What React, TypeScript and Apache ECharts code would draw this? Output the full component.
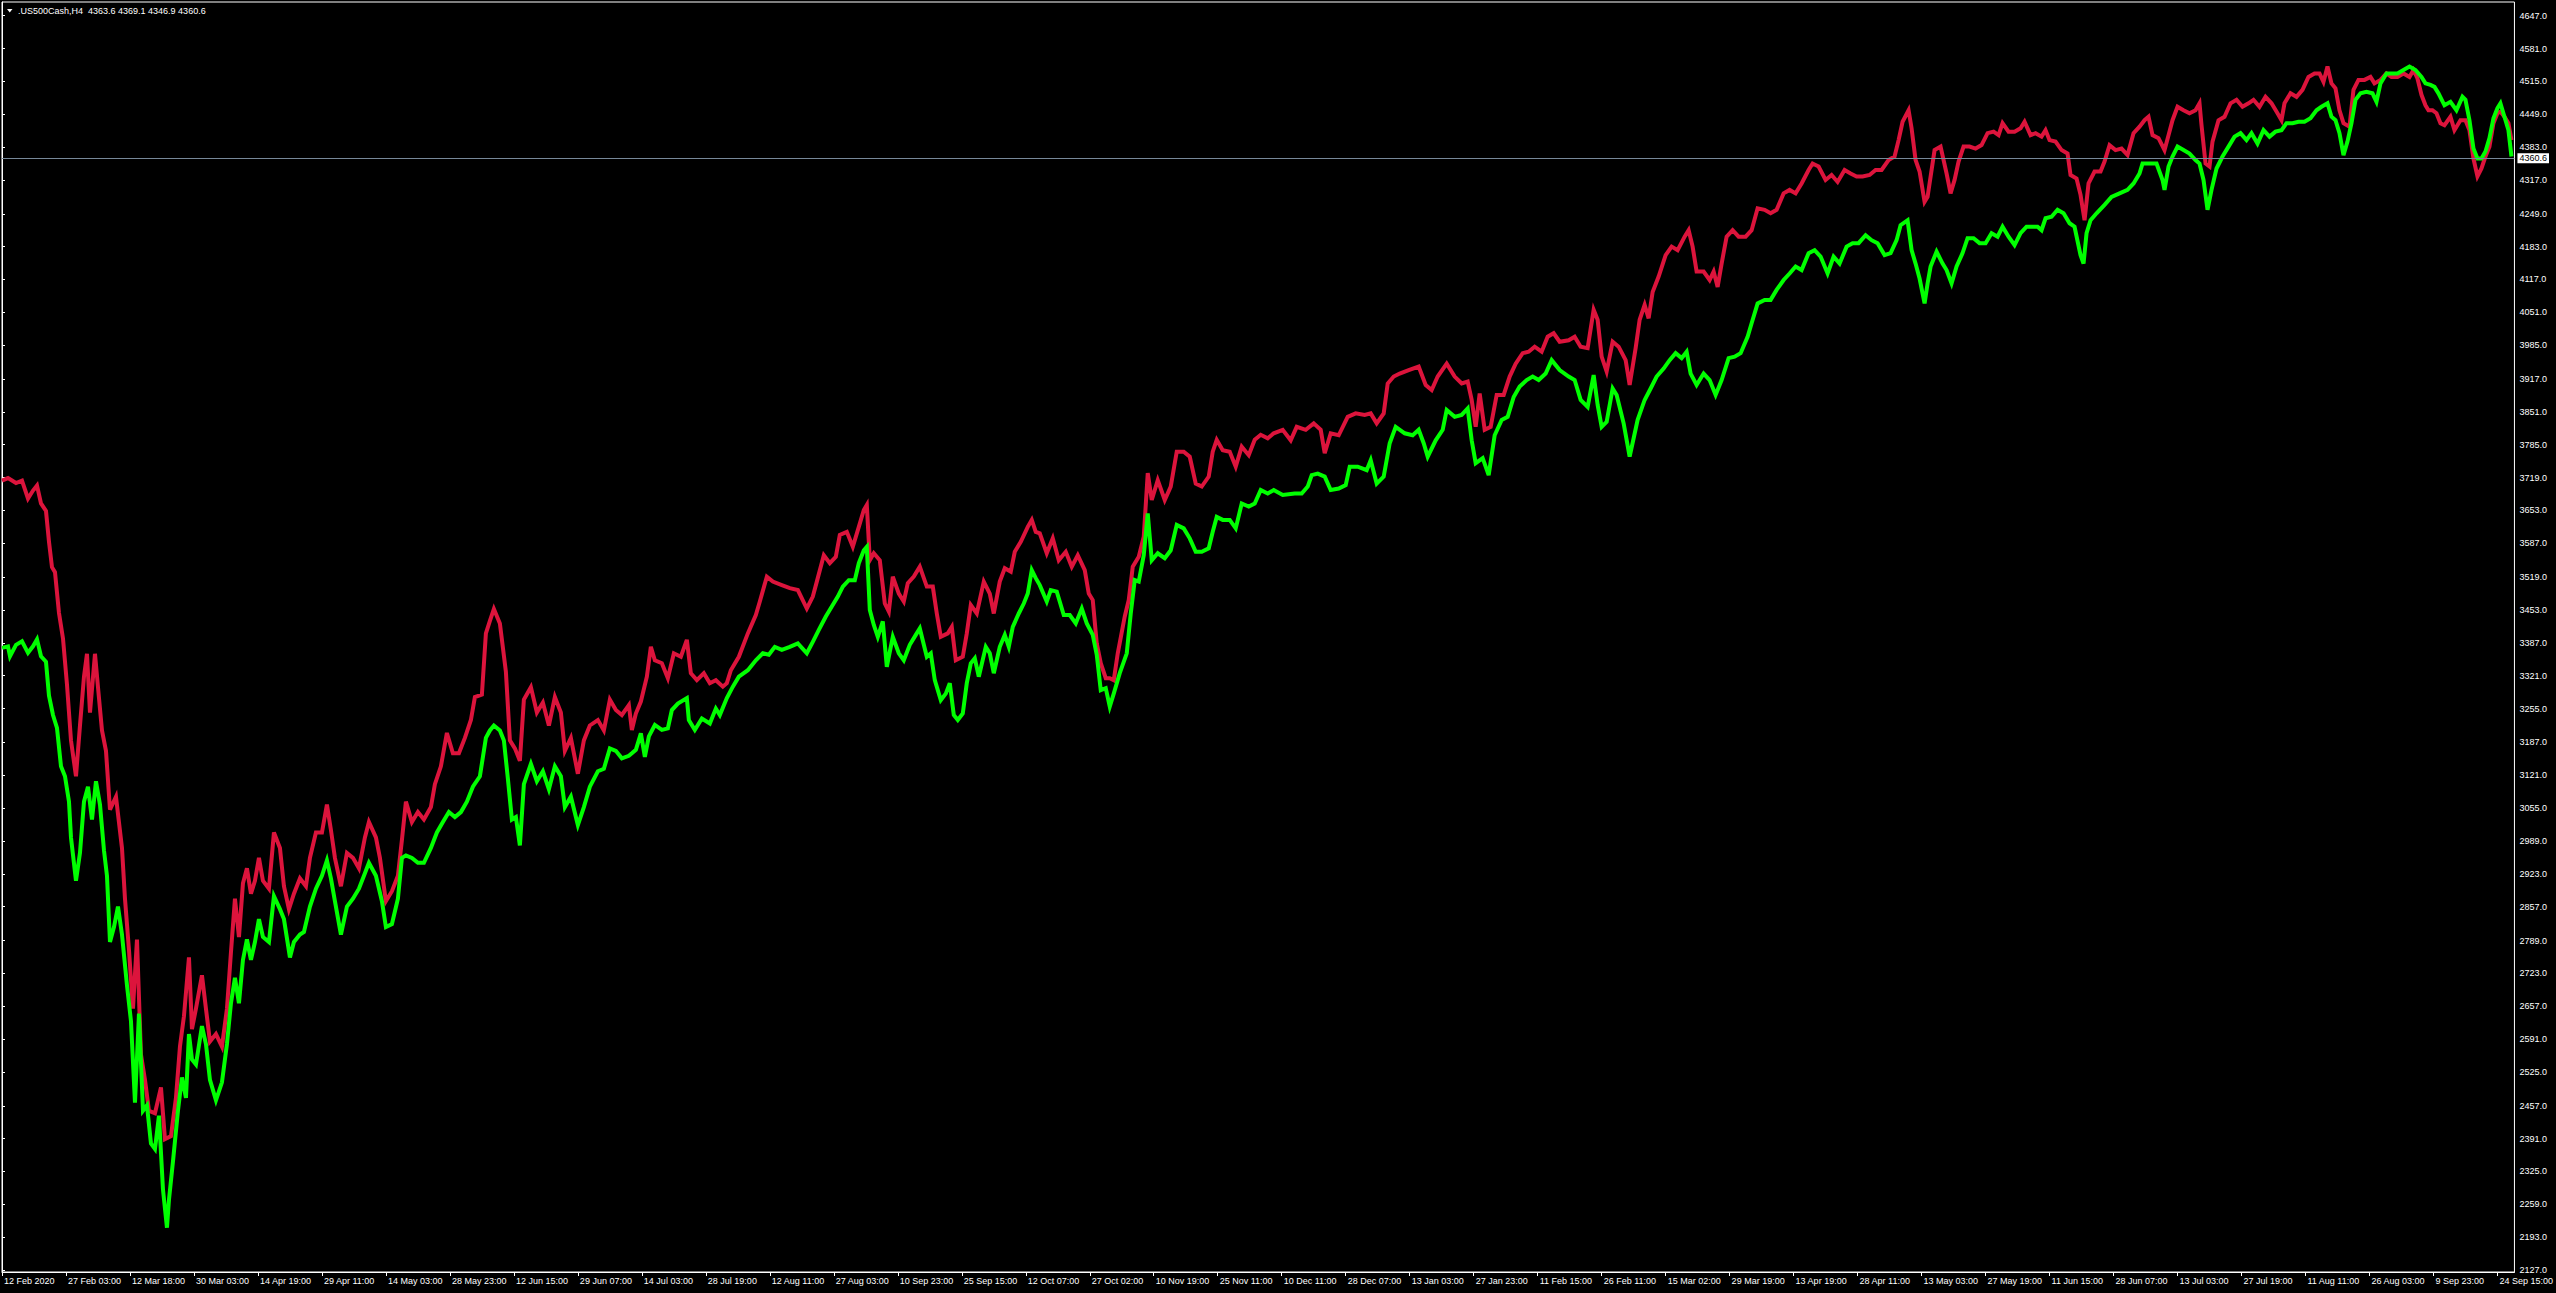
import React, { useEffect, useRef } from 'react';
import * as echarts from 'echarts';

const symbolTitle = '.US500Cash,H4  4363.6 4369.1 4346.9 4360.6';
const currentPrice = 4360.6;
const BARS_PER_LABEL = 64;
const LAST_BAR = 2513;

const xTickLabels = [
  '12 Feb 2020', '27 Feb 03:00', '12 Mar 18:00', '30 Mar 03:00', '14 Apr 19:00', '29 Apr 11:00',
  '14 May 03:00', '28 May 23:00', '12 Jun 15:00', '29 Jun 07:00', '14 Jul 03:00', '28 Jul 19:00',
  '12 Aug 11:00', '27 Aug 03:00', '10 Sep 23:00', '25 Sep 15:00', '12 Oct 07:00', '27 Oct 02:00',
  '10 Nov 19:00', '25 Nov 11:00', '10 Dec 11:00', '28 Dec 07:00', '13 Jan 03:00', '27 Jan 23:00',
  '11 Feb 15:00', '26 Feb 11:00', '15 Mar 02:00', '29 Mar 19:00', '13 Apr 19:00', '28 Apr 11:00',
  '13 May 03:00', '27 May 19:00', '11 Jun 15:00', '28 Jun 07:00', '13 Jul 03:00', '27 Jul 19:00',
  '11 Aug 11:00', '26 Aug 03:00', '9 Sep 23:00', '24 Sep 15:00',
];

const yTickValues = [
  2127, 2193, 2259, 2325, 2391, 2457, 2525, 2591, 2657, 2723, 2789, 2857, 2923, 2989, 3055, 3121,
  3187, 3255, 3321, 3387, 3453, 3519, 3587, 3653, 3719, 3785, 3851, 3917, 3985, 4051, 4117, 4183,
  4249, 4317, 4383, 4449, 4515, 4581, 4647,
];

// [bar index from 12 Feb 2020, price]
const redPoints: [number, number][] = [
  [0,3713],[6,3718],[14,3708],[20,3713],[26,3677],[31,3693],[35,3703],[39,3667],[44,3652],[47,3590],
  [50,3539],[53,3529],[57,3447],[61,3396],[65,3303],[69,3191],[74,3119],[78,3221],[82,3319],[85,3365],
  [88,3247],[93,3365],[96,3298],[100,3211],[104,3170],[108,3052],[114,3078],[120,2975],[123,2873],[127,2770],
  [131,2652],[135,2791],[139,2560],[143,2509],[147,2447],[153,2442],[159,2494],[163,2390],[169,2396],[174,2473],
  [178,2576],[182,2637],[187,2755],[190,2611],[194,2652],[200,2719],[204,2652],[208,2586],[214,2601],[220,2576],
  [225,2652],[229,2765],[233,2873],[237,2796],[241,2904],[245,2934],[249,2883],[253,2909],[257,2955],[261,2909],
  [267,2893],[272,3006],[278,2975],[282,2898],[287,2852],[292,2883],[298,2914],[304,2898],[308,2955],[314,3006],
  [320,3006],[325,3062],[329,3011],[333,2955],[339,2898],[345,2965],[351,2955],[357,2934],[363,2996],[367,3027],
  [374,2996],[378,2955],[384,2868],[390,2888],[396,2919],[400,2991],[404,3068],[410,3027],[416,3047],[422,3032],
  [429,3057],[433,3103],[439,3139],[445,3206],[451,3165],[457,3165],[463,3196],[469,3232],[473,3278],[480,3283],
  [484,3406],[488,3431],[492,3455],[498,3426],[504,3329],[508,3191],[513,3175],[518,3150],[522,3273],[529,3298],
  [535,3247],[541,3267],[547,3221],[553,3278],[559,3247],[563,3170],[569,3196],[576,3124],[582,3191],[588,3221],
  [596,3232],[602,3211],[608,3273],[614,3252],[620,3242],[627,3262],
  [630,3212],[634,3245],[639,3269],[645,3319],[649,3379],[653,3352],[660,3346],[666,3316],[672,3366],[679,3359],
  [685,3393],[689,3326],[695,3312],[702,3326],[708,3306],[714,3312],[721,3299],[725,3306],[729,3332],[737,3359],
  [746,3406],[754,3443],[758,3470],[765,3520],[771,3510],[780,3503],[788,3497],[796,3493],[805,3456],[811,3480],
  [815,3510],[822,3563],[828,3547],[834,3560],[838,3604],[845,3610],[851,3580],[857,3620],[862,3654],[865,3664],
  [868,3553],[872,3567],[878,3553],[883,3466],[887,3450],[891,3520],[897,3486],[902,3470],[906,3507],[912,3520],
  [918,3540],[925,3500],[931,3500],[935,3446],[939,3399],[946,3406],[950,3419],[954,3352],[961,3359],[965,3406],
  [969,3463],[975,3446],[982,3510],[988,3486],[992,3446],[998,3510],[1003,3537],[1009,3530],[1013,3570],[1019,3590],
  [1026,3620],[1030,3634],[1034,3610],[1038,3607],[1045,3567],[1051,3597],[1057,3553],[1064,3570],[1070,3540],[1076,3563],
  [1083,3533],[1087,3486],[1091,3473],[1095,3386],[1099,3346],[1104,3316],[1108,3316],[1112,3312],[1116,3366],[1123,3440],
  [1127,3473],[1131,3540],[1137,3560],[1142,3600],[1146,3728],[1150,3674],[1156,3714],[1163,3674],[1169,3701],[1175,3771],
  [1182,3771],[1188,3761],[1194,3707],[1200,3701],[1207,3721],[1211,3771],[1215,3795],[1221,3774],[1228,3771],[1234,3741],
  [1240,3781],[1247,3764],[1253,3795],[1259,3805],[1266,3798],
  [1272,3808],[1281,3815],[1289,3794],[1295,3821],[1304,3815],[1312,3828],[1319,3815],[1323,3768],[1329,3808],[1337,3804],
  [1346,3841],[1354,3848],[1363,3845],[1369,3848],[1375,3828],[1382,3848],[1386,3908],[1392,3922],[1398,3928],[1407,3935],
  [1417,3942],[1424,3905],[1430,3895],[1436,3922],[1445,3948],[1453,3922],[1460,3908],[1466,3912],[1470,3875],[1474,3821],
  [1478,3888],[1483,3815],[1489,3821],[1495,3885],[1502,3885],[1508,3922],[1514,3948],[1521,3969],[1527,3972],[1533,3982],
  [1540,3972],[1546,4002],[1552,4009],[1558,3992],[1567,3995],[1573,4002],[1579,3982],[1586,3979],[1592,4056],[1596,4036],
  [1600,3962],[1605,3932],[1611,3992],[1617,3982],[1624,3955],[1628,3905],[1634,3979],[1638,4036],[1643,4066],[1647,4039],
  [1651,4092],[1657,4123],[1664,4166],[1670,4183],[1676,4176],[1683,4203],[1687,4216],[1691,4183],[1695,4133],[1702,4133],
  [1708,4116],[1712,4133],[1716,4102],[1720,4149],[1725,4203],[1731,4216],[1737,4203],[1744,4203],[1750,4216],[1756,4260],
  [1763,4257],[1769,4250],[1775,4257],[1782,4290],[1788,4297],[1794,4290],[1800,4310],[1807,4337],[1811,4350],[1817,4344],
  [1824,4317],[1830,4327],[1836,4313],[1843,4337],[1849,4330],[1855,4324],[1861,4324],[1868,4327],[1874,4337],[1880,4337],
  [1887,4357],[1893,4364],[1897,4397],[1901,4434],[1907,4457],[1910,4421],[1914,4357],[1918,4334],[1923,4273],
  [1926,4283],[1933,4377],[1939,4384],[1945,4330],[1949,4290],[1953,4317],[1957,4354],[1962,4384],[1968,4384],[1974,4380],
  [1980,4387],[1986,4411],[1992,4414],[1997,4407],[2001,4431],[2007,4414],[2013,4414],[2019,4421],[2023,4434],[2029,4407],
  [2034,4411],[2040,4404],[2044,4417],[2048,4397],[2054,4394],[2060,4377],[2066,4370],[2069,4327],[2075,4320],[2079,4287],
  [2083,4236],[2087,4310],[2093,4334],[2099,4334],[2103,4354],[2108,4387],[2114,4377],[2120,4380],[2126,4367],[2132,4411],
  [2138,4424],[2143,4437],[2147,4444],[2151,4407],[2157,4401],[2163,4377],[2167,4407],[2171,4437],[2176,4464],[2182,4457],
  [2188,4451],[2194,4457],[2198,4471],[2200,4427],[2204,4350],[2208,4344],[2211,4394],[2217,4437],[2223,4444],[2229,4471],
  [2235,4478],[2241,4464],[2247,4471],[2252,4478],[2258,4464],[2264,4484],[2270,4471],[2276,4451],[2280,4437],[2283,4471],
  [2289,4491],[2295,4484],[2301,4498],[2307,4524],[2313,4531],[2318,4531],[2322,4514],[2326,4545],[2330,4511],[2334,4501],
  [2338,4457],[2342,4431],[2348,4424],[2352,4498],[2357,4518],[2363,4518],[2369,4524],[2373,4511],[2379,4518],[2385,4531],
  [2390,4524],[2396,4524],[2402,4531],[2408,4524],[2412,4538],[2416,4521],[2420,4488],[2424,4467],[2427,4457],[2431,4457],
  [2435,4451],[2439,4431],[2443,4427],[2449,4444],[2453,4417],[2459,4437],[2464,4437],[2468,4417],[2472,4360],[2476,4324],
  [2480,4340],[2484,4364],[2488,4384],[2492,4431],[2496,4451],[2499,4454],[2503,4444],[2507,4431],[2510,4397],
];

const greenPoints: [number, number][] = [
  [0,3377],[6,3380],[8,3360],[14,3383],[20,3390],[26,3367],[31,3380],[35,3394],[39,3360],[44,3349],
  [47,3281],[51,3242],[55,3216],[59,3139],[63,3119],[67,3068],[69,2996],[74,2909],[78,2965],[82,3068],
  [86,3098],[90,3032],[94,3109],[98,3062],[102,2970],[105,2919],[108,2786],[112,2816],[116,2857],[120,2801],
  [125,2699],[129,2627],[133,2463],[137,2642],[141,2447],[145,2458],[149,2381],[153,2370],[157,2437],[161,2289],
  [165,2212],[167,2268],[171,2345],[176,2447],[180,2514],[184,2473],[187,2601],[190,2550],[194,2540],[200,2617],
  [204,2581],[208,2509],[214,2468],[220,2504],[225,2581],[229,2663],[233,2714],[237,2663],[241,2750],[245,2791],
  [249,2750],[253,2786],[257,2832],[261,2796],[267,2786],[272,2878],[278,2852],[282,2832],[288,2755],[292,2786],
  [298,2801],[302,2806],[308,2857],[314,2893],[320,2919],[325,2950],[329,2914],[333,2868],[339,2801],[345,2857],
  [351,2873],[357,2893],[363,2924],[367,2945],[374,2919],[380,2868],[384,2816],[390,2822],[396,2873],[400,2955],
  [404,2960],[410,2955],[416,2945],[422,2945],[429,2975],[435,3006],[441,3027],[447,3047],[453,3037],[459,3047],
  [465,3068],[471,3098],[478,3119],[484,3196],[488,3211],[492,3221],[498,3211],[502,3191],[506,3114],[510,3032],
  [514,3037],[518,2980],[522,3103],[529,3144],[535,3109],[541,3129],[547,3093],[553,3139],[559,3119],[563,3057],
  [569,3078],[576,3021],[582,3057],[588,3098],[596,3129],[602,3134],[608,3175],[614,3170],[620,3155],[627,3160],
  [630,3165],[634,3172],[639,3205],[643,3158],[647,3199],[653,3222],[660,3212],[666,3215],[670,3252],[676,3265],
  [685,3276],[687,3232],[693,3212],[700,3235],[708,3225],[714,3255],[718,3242],[725,3276],[731,3299],[737,3319],
  [746,3332],[754,3352],[761,3366],[767,3363],[773,3379],[780,3373],[788,3379],[796,3386],[805,3366],[811,3389],
  [817,3413],[824,3440],[830,3460],[836,3480],[841,3500],[847,3513],[853,3513],[857,3547],[862,3573],[865,3580],
  [868,3453],[872,3423],[876,3399],[881,3430],[885,3339],[891,3399],[897,3366],[902,3352],[908,3383],[914,3403],
  [918,3416],[925,3359],[929,3366],[933,3312],[939,3272],[944,3285],[948,3306],[952,3242],[956,3232],[961,3245],
  [965,3306],[969,3346],[973,3356],[977,3319],[984,3379],[988,3366],[992,3326],[998,3379],[1003,3403],[1007,3379],
  [1011,3419],[1017,3446],[1022,3466],[1026,3486],[1030,3533],[1034,3517],[1038,3503],[1045,3470],[1049,3493],[1055,3490],
  [1062,3443],[1068,3443],[1074,3426],[1080,3456],[1085,3426],[1091,3403],[1095,3363],[1099,3292],[1104,3296],[1108,3259],
  [1112,3285],[1118,3326],[1125,3366],[1129,3446],[1133,3513],[1137,3510],[1142,3563],[1146,3647],[1150,3553],[1156,3567],
  [1163,3557],[1169,3573],[1175,3624],[1182,3617],[1188,3597],[1194,3570],[1200,3570],[1207,3577],[1211,3610],[1215,3640],
  [1221,3634],[1228,3634],[1234,3617],[1240,3667],[1247,3661],[1253,3667],[1259,3694],[1266,3687],
  [1272,3694],[1281,3684],[1293,3687],[1300,3687],[1306,3701],[1310,3724],[1316,3727],[1323,3721],[1329,3694],[1337,3697],
  [1344,3704],[1348,3741],[1356,3741],[1365,3734],[1369,3754],[1375,3707],[1382,3721],[1388,3788],[1394,3821],[1403,3808],
  [1411,3804],[1417,3815],[1422,3788],[1426,3761],[1434,3794],[1441,3815],[1445,3855],[1453,3841],[1460,3845],[1466,3858],
  [1470,3794],[1474,3748],[1481,3758],[1487,3724],[1493,3804],[1500,3835],[1506,3841],[1512,3881],[1518,3902],[1525,3915],
  [1531,3922],[1537,3915],[1544,3928],[1550,3955],[1558,3935],[1567,3922],[1573,3915],[1579,3875],[1586,3861],[1592,3925],
  [1596,3865],[1600,3821],[1605,3831],[1611,3898],[1615,3885],[1622,3828],[1628,3761],[1632,3798],[1636,3835],[1643,3875],
  [1649,3898],[1655,3922],[1662,3938],[1668,3955],[1674,3969],[1680,3959],[1685,3972],[1689,3928],[1695,3905],[1702,3928],
  [1708,3915],[1714,3885],[1720,3915],[1727,3959],[1733,3962],[1739,3969],[1746,4002],[1750,4029],[1756,4069],[1763,4076],
  [1769,4076],[1775,4096],[1782,4116],[1788,4129],[1794,4143],[1800,4136],[1807,4170],[1813,4176],[1819,4163],[1826,4129],
  [1832,4163],[1838,4149],[1845,4183],[1851,4190],[1857,4190],[1864,4206],[1870,4196],[1876,4190],[1883,4166],[1889,4170],
  [1895,4196],[1899,4226],[1906,4236],[1910,4176],[1914,4149],[1918,4119],[1923,4069],
  [1926,4109],[1929,4143],[1935,4173],[1941,4149],[1945,4136],[1950,4109],[1955,4143],[1961,4170],[1966,4200],[1972,4200],
  [1978,4190],[1984,4190],[1990,4210],[1996,4203],[2001,4223],[2007,4203],[2013,4186],[2019,4210],[2025,4223],[2031,4223],
  [2036,4223],[2040,4216],[2044,4240],[2050,4243],[2056,4257],[2062,4250],[2068,4230],[2073,4223],[2079,4166],[2082,4149],
  [2085,4210],[2089,4236],[2095,4250],[2103,4267],[2110,4283],[2118,4290],[2126,4297],[2132,4310],[2138,4330],[2141,4350],
  [2149,4350],[2155,4350],[2161,4317],[2163,4297],[2167,4344],[2171,4364],[2176,4384],[2182,4377],[2188,4370],[2194,4357],
  [2198,4350],[2202,4317],[2206,4257],[2210,4297],[2215,4340],[2221,4364],[2227,4384],[2233,4404],[2239,4411],[2245,4397],
  [2250,4411],[2256,4390],[2262,4417],[2268,4404],[2274,4414],[2280,4417],[2285,4431],[2291,4431],[2297,4434],[2303,4434],
  [2309,4441],[2315,4457],[2320,4464],[2326,4471],[2330,4444],[2334,4437],[2338,4411],[2342,4367],[2346,4394],[2350,4431],
  [2354,4478],[2359,4491],[2365,4494],[2371,4491],[2375,4474],[2379,4511],[2385,4531],[2390,4531],[2396,4531],[2402,4538],
  [2408,4545],[2414,4538],[2420,4524],[2424,4511],[2429,4508],[2433,4504],[2437,4491],[2443,4467],[2449,4474],[2455,4457],
  [2461,4484],[2464,4478],[2468,4437],[2472,4380],[2476,4360],[2480,4360],[2484,4374],[2488,4401],[2492,4441],[2496,4461],
  [2499,4471],[2503,4444],[2507,4417],[2510,4364],
];

const FONT = 'Liberation Sans';

export default function App() {
  const ref = useRef<HTMLDivElement>(null);

  useEffect(() => {
    document.body.style.margin = '0';
    document.body.style.background = '#000';
    const chart = echarts.init(ref.current as HTMLDivElement, null, { renderer: 'svg' });
    const xTickValues = xTickLabels.map((_, k) => k * BARS_PER_LABEL);

    chart.setOption({
      animation: false,
      backgroundColor: '#000',
      textStyle: { fontFamily: FONT },
      grid: {
        left: 2,
        top: 2,
        right: 41,
        bottom: 21,
        show: true,
        borderColor: '#ffffff',
        borderWidth: 1,
        backgroundColor: 'transparent',
      },
      xAxis: {
        type: 'value',
        min: 0,
        max: LAST_BAR,
        interval: BARS_PER_LABEL,
        axisLine: { show: true, lineStyle: { color: '#ffffff', width: 1 } },
        axisTick: { show: true, length: 4, lineStyle: { color: '#ffffff' }, customValues: xTickValues },
        axisLabel: {
          color: '#ffffff',
          fontSize: 9,
          fontFamily: FONT,
          align: 'left',
          margin: 4,
          padding: [0, 0, 0, 2],
          customValues: xTickValues,
          formatter: (v: number) => {
            const k = Math.round(v / BARS_PER_LABEL);
            return Math.abs(v - k * BARS_PER_LABEL) < 0.5 ? xTickLabels[k] ?? '' : '';
          },
        },
        splitLine: { show: false },
      },
      yAxis: {
        type: 'value',
        position: 'right',
        min: 2123,
        max: 4674.5,
        axisLine: { show: true, lineStyle: { color: '#ffffff', width: 1 } },
        axisTick: { show: true, length: 3, lineStyle: { color: '#ffffff' }, customValues: yTickValues },
        axisLabel: {
          color: '#ffffff',
          fontSize: 9,
          fontFamily: FONT,
          margin: 5,
          customValues: yTickValues,
          formatter: (v: number) => v.toFixed(1),
        },
        splitLine: { show: false },
      },
      series: [
        {
          type: 'line',
          data: redPoints,
          symbol: 'none',
          lineStyle: { color: '#DC143C', width: 4, join: 'miter' },
          z: 2,
        },
        {
          type: 'line',
          data: greenPoints,
          symbol: 'none',
          lineStyle: { color: '#00FF00', width: 4, join: 'miter' },
          z: 3,
          markLine: {
            silent: true,
            symbol: ['none', 'none'],
            lineStyle: { color: '#778899', width: 1, type: 'solid' },
            label: {
              show: true,
              position: 'end',
              formatter: currentPrice.toFixed(1),
              color: '#000000',
              backgroundColor: '#ffffff',
              fontSize: 9,
              fontFamily: FONT,
              padding: [1, 2, 0, 2],
              distance: 3,
            },
            data: [{ yAxis: currentPrice }],
          },
        },
      ],
      graphic: [
        {
          type: 'polygon',
          shape: { points: [[7, 9], [12.5, 9], [9.75, 12.5]] },
          style: { fill: '#ffffff' },
        },
        {
          type: 'text',
          x: 18,
          y: 10.5,
          style: {
            text: symbolTitle,
            fill: '#ffffff',
            fontSize: 9,
            fontFamily: FONT,
            align: 'left',
            verticalAlign: 'middle',
          },
        },
      ],
    });

    return () => chart.dispose();
  }, []);

  return <div ref={ref} style={{ width: 2556, height: 1293, background: '#000' }} />;
}
